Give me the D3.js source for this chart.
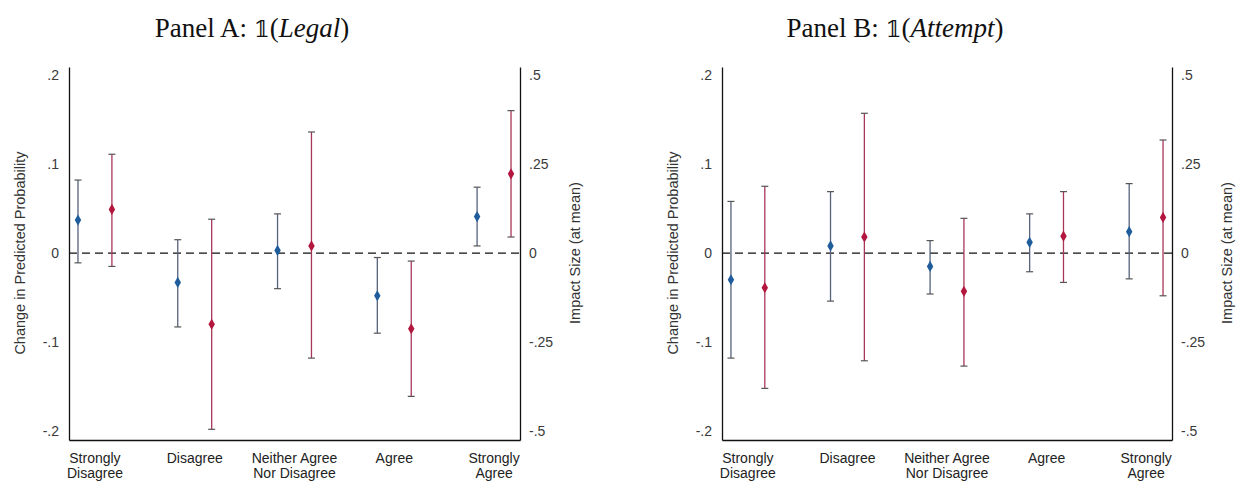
<!DOCTYPE html>
<html lang="en">
<head>
<meta charset="utf-8">
<title>Panels A and B</title>
<script src="https://cdn.jsdelivr.net/npm/d3@7"></script>
<style>
  html, body { margin: 0; padding: 0; background: #fff; }
  svg { display: block; }
</style>
</head>
<body>
<script>
// categories on the x axis (two-line labels)
const categories = [["Strongly", "Disagree"], ["Disagree"], ["Neither Agree", "Nor Disagree"], ["Agree"], ["Strongly", "Agree"]];

// left axis ticks / right axis ticks
const leftTicks = [0.2, 0.1, 0, -0.1, -0.2];
const rightTicks = [0.5, 0.25, 0, -0.25, -0.5];

// Panel A: 1(Legal)
const aBlueEst = [0.037, -0.033, 0.003, -0.048, 0.041];
const aBlueLo  = [-0.011, -0.083, -0.040, -0.090, 0.008];
const aBlueHi  = [0.082, 0.015, 0.044, -0.005, 0.074];
const aRedEst  = [0.049, -0.080, 0.008, -0.085, 0.089];
const aRedLo   = [-0.015, -0.198, -0.118, -0.161, 0.018];
const aRedHi   = [0.111, 0.038, 0.136, -0.009, 0.160];

// Panel B: 1(Attempt)
const bBlueEst = [-0.030, 0.008, -0.015, 0.012, 0.024];
const bBlueLo  = [-0.118, -0.054, -0.046, -0.021, -0.029];
const bBlueHi  = [0.058, 0.069, 0.014, 0.044, 0.078];
const bRedEst  = [-0.039, 0.018, -0.043, 0.019, 0.040];
const bRedLo   = [-0.152, -0.121, -0.127, -0.033, -0.048];
const bRedHi   = [0.075, 0.157, 0.039, 0.069, 0.127];

const W = 1237, H = 482;
const blueDot = "#1f5c9c", redDot = "#b3173f";
const blueLine = "#56627c", redLine = "#a83658";
const capColor = "#555";
const sans = "Arial, 'Liberation Sans', sans-serif";

const svg = d3.select("body").append("svg")
  .attr("width", W).attr("height", H);

function fmt(d) {
  if (d === 0) return "0";
  return (d < 0 ? "-" : "") + String(Math.abs(d)).replace(/^0/, "");
}

function drawPanel(p) {
  const g = svg.append("g");

  const y = d3.scaleLinear().domain([-0.21, 0.209]).range([440, 67]);
  const yR = d3.scaleLinear().domain([-0.21 * 2.5, 0.209 * 2.5]).range([440, 67]);
  const x = d3.scaleLinear().domain([0.74, 5.26]).range([p.left, p.right]);

  // title
  const t = g.append("text")
    .attr("x", p.titleX).attr("y", 37)
    .attr("text-anchor", "middle")
    .attr("font-family", "'Liberation Serif', 'DejaVu Serif', serif")
    .attr("font-size", 27).attr("fill", "#111");
  t.append("tspan").text(p.title + " ");
  t.append("tspan").attr("font-family", "'DejaVu Serif', serif").attr("font-size", 23).text("𝟙");
  t.append("tspan").text("(");
  t.append("tspan").attr("font-style", "italic").text(p.word);
  t.append("tspan").text(")");

  // zero line
  g.append("line")
    .attr("x1", p.left).attr("x2", p.right)
    .attr("y1", y(0)).attr("y2", y(0))
    .attr("stroke", "#111").attr("stroke-width", 1.2)
    .attr("stroke-dasharray", "8,5");

  // axes
  const axL = d3.axisLeft(y).tickValues(leftTicks).tickSize(0).tickPadding(10).tickFormat(fmt);
  const axR = d3.axisRight(yR).tickValues(rightTicks).tickSize(0).tickPadding(9).tickFormat(fmt);
  const xAx = d3.axisBottom(x).tickValues([1, 2, 3, 4, 5]).tickSize(0).tickFormat("");

  const gl = g.append("g").attr("transform", `translate(${p.left},0)`).call(axL);
  const gr = g.append("g").attr("transform", `translate(${p.right},0)`).call(axR);
  const gb = g.append("g").attr("transform", "translate(0,440)").call(xAx);
  [gl, gr, gb].forEach(a => {
    a.select(".domain").attr("stroke", "#111").attr("stroke-width", 1.3);
    a.selectAll("text").attr("font-family", sans)
      .attr("font-size", 14).attr("fill", "#3a3a3a");
  });

  // category labels
  categories.forEach((lines, i) => {
    const tx = g.append("text")
      .attr("x", x(i + 1)).attr("y", 463)
      .attr("text-anchor", "middle")
      .attr("font-family", sans)
      .attr("font-size", 14).attr("fill", "#222");
    lines.forEach((l, j) => {
      tx.append("tspan").attr("x", x(i + 1)).attr("dy", j === 0 ? 0 : 14.5).text(l);
    });
  });

  // axis titles
  g.append("text")
    .attr("transform", `translate(${p.left - 44},${y(0)}) rotate(-90)`)
    .attr("text-anchor", "middle")
    .attr("font-family", sans)
    .attr("font-size", 14.5).attr("fill", "#333")
    .text("Change in Predicted Probability");
  g.append("text")
    .attr("transform", `translate(${p.right + 60},${y(0)}) rotate(-90)`)
    .attr("text-anchor", "middle")
    .attr("font-family", sans)
    .attr("font-size", 14.5).attr("fill", "#333")
    .text("Impact Size (at mean)");

  // estimates with intervals
  const series = [
    { est: p.blueEst, lo: p.blueLo, hi: p.blueHi, off: -0.17, dot: blueDot, line: blueLine },
    { est: p.redEst, lo: p.redLo, hi: p.redHi, off: 0.17, dot: redDot, line: redLine }
  ];
  const diamond = d3.symbol().type(d3.symbolDiamond).size(36);

  series.forEach(s => {
    const rows = s.est.map((e, i) => ({ e: e, lo: s.lo[i], hi: s.hi[i], cx: x(i + 1 + s.off) }));
    const sg = g.append("g");
    sg.selectAll("line.ci").data(rows).enter().append("line")
      .attr("class", "ci")
      .attr("x1", d => d.cx).attr("x2", d => d.cx)
      .attr("y1", d => y(d.lo)).attr("y2", d => y(d.hi))
      .attr("stroke", s.line).attr("stroke-width", 1.3);
    sg.selectAll("line.capHi").data(rows).enter().append("line")
      .attr("class", "capHi")
      .attr("x1", d => d.cx - 3.5).attr("x2", d => d.cx + 3.5)
      .attr("y1", d => y(d.hi)).attr("y2", d => y(d.hi))
      .attr("stroke", capColor).attr("stroke-width", 1.2);
    sg.selectAll("line.capLo").data(rows).enter().append("line")
      .attr("class", "capLo")
      .attr("x1", d => d.cx - 3.5).attr("x2", d => d.cx + 3.5)
      .attr("y1", d => y(d.lo)).attr("y2", d => y(d.lo))
      .attr("stroke", capColor).attr("stroke-width", 1.2);
    sg.selectAll("path").data(rows).enter().append("path")
      .attr("d", diamond)
      .attr("transform", d => `translate(${d.cx},${y(d.e)})`)
      .attr("fill", s.dot);
  });
}

drawPanel({
  left: 69, right: 520, titleX: 252, title: "Panel A:", word: "Legal",
  blueEst: aBlueEst, blueLo: aBlueLo, blueHi: aBlueHi,
  redEst: aRedEst, redLo: aRedLo, redHi: aRedHi
});
drawPanel({
  left: 722, right: 1172, titleX: 895, title: "Panel B:", word: "Attempt",
  blueEst: bBlueEst, blueLo: bBlueLo, blueHi: bBlueHi,
  redEst: bRedEst, redLo: bRedLo, redHi: bRedHi
});
</script>
</body>
</html>
